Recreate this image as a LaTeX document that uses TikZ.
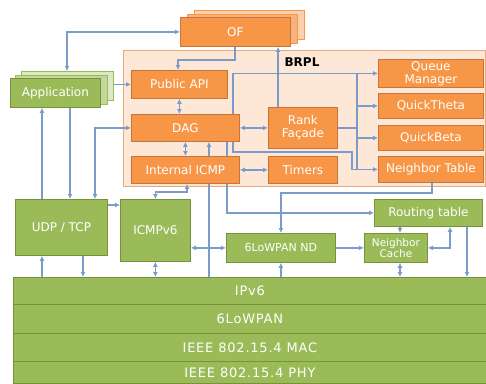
\documentclass[tikz,border=0pt]{standalone}
\usepackage{fontspec}
\setmainfont{DejaVu Sans}
\newfontfamily\stackfont[LetterSpace=6]{DejaVu Sans}
\usetikzlibrary{arrows.meta,calc}
\definecolor{orng}{HTML}{F79646}
\definecolor{orngdk}{HTML}{C8743A}
\definecolor{orngm}{HTML}{F9B17F}
\definecolor{orngb}{HTML}{FCD0AE}
\definecolor{peach}{HTML}{FDE7D6}
\definecolor{peachbd}{HTML}{E9A877}
\definecolor{grn}{HTML}{9BBB59}
\definecolor{grndk}{HTML}{76923C}
\definecolor{grnm}{HTML}{C3D69B}
\definecolor{grnb}{HTML}{DDE8C4}
\definecolor{lblue}{HTML}{7B9CCB}
\pgfdeclarelayer{bg}
\pgfdeclarelayer{lines}
\pgfsetlayers{bg,lines,main}
\tikzset{
  box/.style={anchor=north west, inner sep=0pt, align=center, text=white,
    font=\fontsize{12}{13}\selectfont, line width=0.8pt},
  obox/.style={box, fill=orng, draw=orngdk},
  gbox/.style={box, fill=grn, draw=grndk},
  obox2/.style={box, fill=orngm, draw=orng},
  obox3/.style={box, fill=orngb, draw=orng},
  gbox2/.style={box, fill=grnm, draw=grn},
  gbox3/.style={box, fill=grnb, draw=grn},
  stackbox/.style={box, fill=grn, draw=grndk, font=\stackfont\fontsize{13}{14}\selectfont},
  conn/.style={draw=lblue, line width=1.4pt, >={Latex[length=5pt,width=5pt]}},
}
\begin{document}
\begin{tikzpicture}[x=1pt,y=-1pt]
\useasboundingbox (0,0) rectangle (486,383);
% helper coordinates
\coordinate (x42) at (42,0);
\coordinate (x67) at (67,0);
\coordinate (x70) at (70,0);
\coordinate (x83) at (83,0);
\coordinate (x95) at (95,0);
\coordinate (x209) at (209,0);
\coordinate (x227) at (227,0);
\coordinate (x233) at (233,0);
\coordinate (x235) at (235,0);
\coordinate (x278) at (278,0);
\coordinate (x357) at (357,0);
\coordinate (x400) at (400,0);
\coordinate (x432) at (432,0);
\coordinate (x450) at (450,0);
\coordinate (x467) at (467,0);
\coordinate (y193) at (0,193);
\coordinate (y205) at (0,205);
\coordinate (k2) at (178,60);
\coordinate (k9) at (187,192);
\coordinate (k12) at (352,152);

% container
\begin{pgfonlayer}{bg}
\node[anchor=north west, draw=peachbd, fill=peach, line width=1pt,
  minimum width=362pt, minimum height=136pt, inner sep=0pt] (brpl) at (123,50) {};
\end{pgfonlayer}
\node[font=\bfseries\fontsize{12}{13}\selectfont, text=black] (brpllbl) at (302,62) {BRPL};

% OF stack
\node[obox3, minimum width=110pt, minimum height=29pt] (of3) at (194,10) {};
\node[obox2, minimum width=110pt, minimum height=29pt] (of2) at (187,13.5) {};
\node[obox, minimum width=110pt, minimum height=29pt] (of) at (180,17) {OF};

% Application stack
\node[gbox3, minimum width=92pt, minimum height=29pt] (appb2) at (21,71) {};
\node[gbox2, minimum width=92pt, minimum height=29pt] (appb1) at (15,74.5) {};
\node[gbox, minimum width=90pt, minimum height=29pt] (app) at (10,78) {Application};

% BRPL internals
\node[obox, minimum width=96pt, minimum height=28pt] (api) at (131,70) {Public API};
\node[obox, minimum width=108pt, minimum height=27pt] (dag) at (131,114) {DAG};
\node[obox, minimum width=108pt, minimum height=27pt] (icmp) at (131,156) {Internal ICMP};
\node[obox, minimum width=69pt, minimum height=41pt] (rf) at (268,107) {Rank\\Façade};
\node[obox, minimum width=69pt, minimum height=27pt] (tm) at (268,156) {Timers};
\node[obox, minimum width=105pt, minimum height=28pt] (qm) at (378,59) {Queue\\Manager};
\node[obox, minimum width=105pt, minimum height=25pt] (qt) at (378,93) {QuickTheta};
\node[obox, minimum width=105pt, minimum height=25pt] (qb) at (378,125) {QuickBeta};
\node[obox, minimum width=105pt, minimum height=26pt] (nt) at (378,156) {Neighbor Table};

% green middle boxes
\node[gbox, minimum width=92pt, minimum height=56pt] (udp) at (15,199) {UDP / TCP};
\node[gbox, minimum width=70pt, minimum height=62pt] (icmpv6) at (120,199) {ICMPv6};
\node[gbox, minimum width=109pt, minimum height=29pt, font=\fontsize{11}{12}\selectfont] (nd) at (226,233) {6LoWPAN ND};
\node[gbox, minimum width=63pt, minimum height=29pt, font=\fontsize{10.5}{11.5}\selectfont] (nc) at (364,233) {Neighbor\\Cache};
\node[gbox, minimum width=108pt, minimum height=27pt] (rt) at (374,199) {Routing table};

% bottom stack
\node[stackbox, minimum width=473pt, minimum height=27pt] (ipv6) at (13,277) {IPv6};
\node[stackbox, minimum width=473pt, minimum height=29pt] (lowpan) at (13,304) {6LoWPAN};
\node[stackbox, minimum width=473pt, minimum height=28pt] (mac) at (13,333) {IEEE 802.15.4 MAC};
\node[stackbox, minimum width=473pt, minimum height=22pt] (phy) at (13,361) {IEEE 802.15.4 PHY};

% connectors
\begin{pgfonlayer}{lines}
\draw[conn,<->] (appb2.north -| x67) |- (of.west);
\draw[conn,->] (of.south -| x235) |- (k2) -- (k2 |- api.north);
\draw[conn,->] (appb2.east |- api.west) -- (api.west);
\draw[conn,<->] (api.south) -- (api.south |- dag.north);
\draw[conn,<->] (dag.south) -- (icmp.north);
\draw[conn,<->] (udp.north -| x95) |- (dag.west);
\draw[conn,->] (udp.north -| x42) -- (app.south -| x42);
\draw[conn,->] (app.south -| x70) -- (udp.north -| x70);
\draw[conn,->] (udp.east |- y205) -- (icmpv6.west |- y205);
\draw[conn,<->] (icmpv6.north) |- (k9) -- (k9 |- icmp.south);
\draw[conn,->] (ipv6.north -| x209) -- (dag.south -| x209);
\draw[conn,->] (dag.south -| x227) |- (rt.west);
\draw[conn,->] (dag.north -| x233) |- (qm.west);
\draw[conn,->] (dag.south -| x233) |- (k12) |- (nt.west);
\draw[conn] (rf.east) -- (rf.east -| x357);
\draw[conn] (x357 |- qm.west) -- (x357 |- nt.west);
\draw[conn,->] (x357 |- qt.west) -- (qt.west);
\draw[conn,->] (x357 |- qb.west) -- (qb.west);
\draw[conn,->] (rf.north -| x278) -- (of.south -| x278);
\draw[conn,<->] (dag.east) -- (rf.west);
\draw[conn,<->] (icmp.east) -- (tm.west);
\draw[conn,->] (nt.south -| x432) |- (nd.north |- y193) -- (nd.north);
\draw[conn,<->] (icmpv6.east |- nd.west) -- (nd.west);
\draw[conn,->] (nd.east) -- (nc.west);
\draw[conn,->] (rt.south -| x400) -- (nc.north -| x400);
\draw[conn,<->] (nc.east) -| (rt.south -| x450);
\draw[conn,->] (rt.south -| x467) -- (ipv6.north -| x467);
\draw[conn,<->] (nc.south -| x400) -- (ipv6.north -| x400);
\draw[conn,->] (nd.south |- ipv6.north) -- (nd.south);
\draw[conn,<->] (icmpv6.south) -- (icmpv6.south |- ipv6.north);
\draw[conn,->] (ipv6.north -| x42) -- (udp.south -| x42);
\draw[conn,->] (udp.south -| x83) -- (ipv6.north -| x83);
\end{pgfonlayer}
\end{tikzpicture}
\end{document}
